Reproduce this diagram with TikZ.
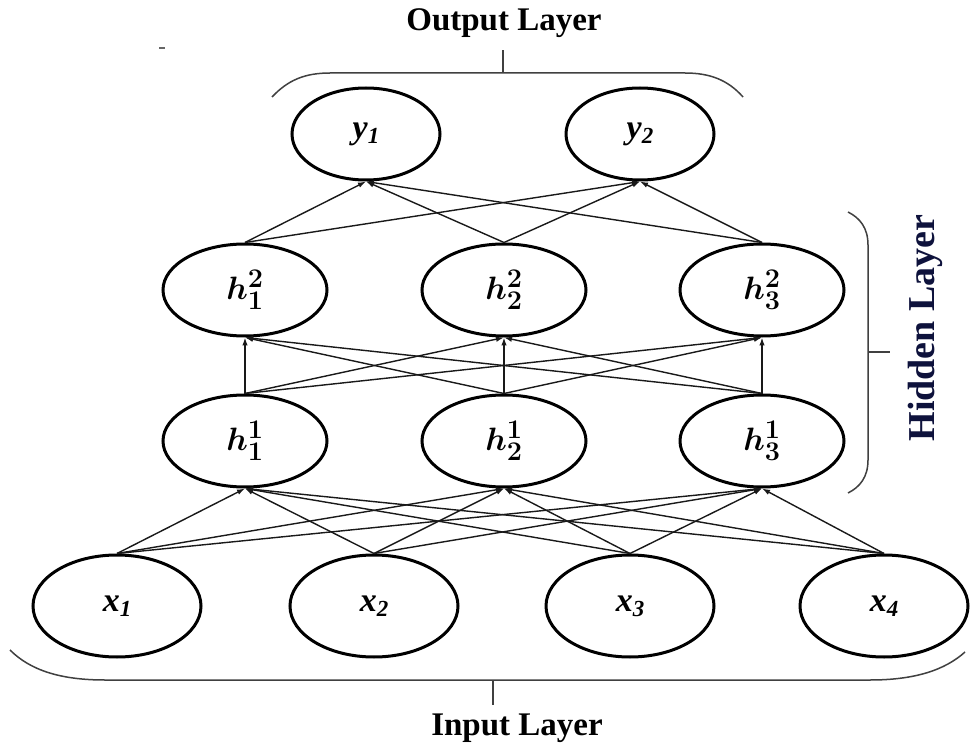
\documentclass[tikz,border=0pt]{standalone}
\usepackage{fontspec}
\setmainfont{Liberation Serif}
\usetikzlibrary{shapes.geometric,arrows.meta}
\definecolor{navy}{RGB}{14,18,60}
\begin{document}
\begin{tikzpicture}[x=1pt,y=-1pt,
  unit/.style={ellipse,draw=black,line width=3pt,inner sep=0pt},
  outunit/.style={unit,minimum width=148pt,minimum height=92pt},
  hidunit/.style={unit,minimum width=164pt,minimum height=92pt},
  inunit/.style={unit,minimum width=168pt,minimum height=102pt},
  link/.style={draw=black!90,line width=1.4pt,-{Latex[length=8pt,width=5.5pt]}},
  brace/.style={draw=black!75,line width=1.5pt},
  layername/.style={font=\fontsize{33}{33}\selectfont\bfseries},
  varname/.style={font=\fontsize{34}{34}\selectfont\bfseries\itshape},
  hname/.style={font=\Huge\boldmath}
]
\useasboundingbox[fill=white] (0,0) rectangle (972,751);
\newcommand{\lab}[2]{#1\raisebox{-5pt}{\fontsize{23}{23}\selectfont #2}}
\newcommand{\hlab}[2]{\scalebox{1.3}{$h^{#2}_{#1}$}}

% output layer
\node[outunit,varname] (y1) at (366,134) {\lab{y}{1}};
\node[outunit,varname] (y2) at (640,134) {\lab{y}{2}};

% second hidden layer
\node[hidunit,hname] (hb1) at (245,290) {\hlab{1}{2}};
\node[hidunit,hname] (hb2) at (504,290) {\hlab{2}{2}};
\node[hidunit,hname] (hb3) at (762,290) {\hlab{3}{2}};

% first hidden layer
\node[hidunit,hname] (ha1) at (245,441) {\hlab{1}{1}};
\node[hidunit,hname] (ha2) at (504,441) {\hlab{2}{1}};
\node[hidunit,hname] (ha3) at (762,441) {\hlab{3}{1}};

% input layer
\node[inunit,varname] (x1) at (117,606) {\lab{x}{1}};
\node[inunit,varname] (x2) at (374,606) {\lab{x}{2}};
\node[inunit,varname] (x3) at (630,606) {\lab{x}{3}};
\node[inunit,varname] (x4) at (884,606) {\lab{x}{4}};

% fully connected links
\foreach \s in {x1,x2,x3,x4}
  \foreach \t in {ha1,ha2,ha3}
    \draw[link] (\s.north) -- (\t.south);
\foreach \s in {ha1,ha2,ha3}
  \foreach \t in {hb1,hb2,hb3}
    \draw[link] (\s.north) -- (\t.south);
\foreach \s in {hb1,hb2,hb3}
  \foreach \t in {y1,y2}
    \draw[link] (\s.north) -- (\t.south);

% output brace and label
\draw[brace] (272,97) .. controls (288,80) and (305,73) .. (330,73) -- (685,73)
  .. controls (710,73) and (728,80) .. (743,97);
\coordinate (otick) at (503,73);
\coordinate (otop) at (503,50);
\draw[brace] (otick) -- (otop);
\node[layername] (outlbl) at (504,23) {Output Layer};

% hidden brace and label
\draw[brace] (848,212) .. controls (860,218) and (868,228) .. (868,245) -- (868,460)
  .. controls (868,477) and (860,487) .. (848,493);
\coordinate (htick) at (868,352);
\coordinate (hend) at (890,352);
\draw[brace] (htick) -- (hend);
\node[font=\fontsize{38}{38}\selectfont\bfseries,text=navy,rotate=90] (hidlbl) at (925,328) {Hidden Layer};

% input brace and label
\draw[brace] (10,650) .. controls (30,670) and (60,680) .. (105,680) -- (870,680)
  .. controls (915,680) and (945,670) .. (965,652);
\coordinate (itick) at (493,680);
\coordinate (ibot) at (493,705);
\draw[brace] (itick) -- (ibot);
\node[layername] (inlbl) at (517,728) {Input Layer};

% small stray mark
\draw[black!60,line width=1.5pt] (159,48) -- (165,48);
\end{tikzpicture}
\end{document}
